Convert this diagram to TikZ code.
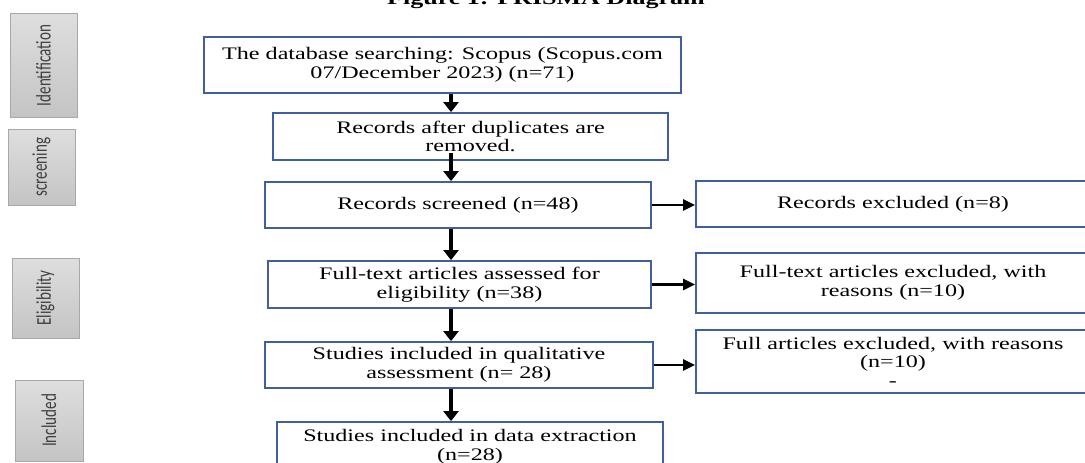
\documentclass[tikz,border=0pt]{standalone}
\usepackage{fontspec}
\setmainfont[FakeStretch=1.37]{Liberation Serif}
\newfontfamily\stagefont[FakeStretch=0.72]{Carlito}
\usetikzlibrary{arrows.meta}
\definecolor{boxblue}{RGB}{62, 96, 160}
\definecolor{stagetop}{RGB}{222, 222, 222}
\definecolor{stagebottom}{RGB}{196, 196, 196}
\definecolor{stageedge}{RGB}{168, 168, 168}

\begin{document}
\begin{tikzpicture}[x=1pt, y=-1pt,
  mainbox/.style={draw=boxblue, line width=1.8pt, align=center, inner sep=0pt, font=\fontsize{17.6}{18.5}\selectfont},
  stagebox/.style={draw=stageedge, line width=1pt, top color=stagetop, bottom color=stagebottom, rotate=90, inner sep=0pt, font=\stagefont\fontsize{21}{21}\selectfont, text=black!75},
  flowarr/.style={-{Triangle[length=10pt, width=15pt]}, line width=3.6pt},
  sidearr/.style={-{Triangle[length=12pt, width=11pt]}, line width=2.8pt}
]
  \useasboundingbox (0,0) rectangle (1085,463);

  % Title (cut at the top edge)
  \node[anchor=base, inner sep=0pt, font=\bfseries\fontsize{19}{19}\selectfont] (title) at (546,5) {Figure 1: PRISMA Diagram};

  % Stage labels
  \node[stagebox, minimum width=104pt, minimum height=67pt] (ident) at (43.5,65.5) {Identification};
  \node[stagebox, minimum width=76pt, minimum height=67pt] (screen) at (41.5,167) {screening};
  \node[stagebox, minimum width=80pt, minimum height=67pt] (elig) at (45.5,298) {Eligibility};
  \node[stagebox, minimum width=81pt, minimum height=68pt] (incl) at (49,420.5) {Included};

  % Main flow
  \node[mainbox, minimum width=477pt, minimum height=56pt] (search) at (442.5,65) {The database searching: Scopus (Scopus.com\\07/December 2023) (n=71)};
  \node[mainbox, minimum width=395pt, minimum height=47pt] (dupl) at (470.5,136.5) {Records after duplicates are\\removed.};
  \node[mainbox, minimum width=386pt, minimum height=46pt] (screened) at (458,205) {Records screened (n=48)};
  \node[mainbox, minimum width=383pt, minimum height=47pt] (fulltext) at (459.5,284.5) {Full-text articles assessed for\\eligibility (n=38)};
  \node[mainbox, minimum width=388pt, minimum height=46pt] (qual) at (459,365) {Studies included in qualitative\\assessment (n= 28)};
  \node[mainbox, minimum width=386pt, minimum height=50pt] (extract) at (470,447) {Studies included in data extraction\\(n=28)};

  % Exclusions
  \node[mainbox, minimum width=394pt, minimum height=46pt] (excl1) at (893,204) {Records excluded (n=8)};
  \node[mainbox, minimum width=394pt, minimum height=60pt] (excl2) at (893,283) {Full-text articles excluded, with\\reasons (n=10)};
  \node[mainbox, minimum width=394pt, minimum height=63pt] (excl3) at (893,361.5) {Full articles excluded, with reasons\\(n=10)\\-};

  % Arrows
  \coordinate (spine) at (451,0);
  \draw[flowarr] (spine |- search.south) -- (spine |- dupl.north);
  \draw[flowarr] ([yshift=8pt]spine |- dupl.south) -- (spine |- screened.north);
  \draw[flowarr] (spine |- screened.south) -- (spine |- fulltext.north);
  \draw[flowarr] (spine |- fulltext.south) -- (spine |- qual.north);
  \draw[flowarr] (spine |- qual.south) -- (spine |- extract.north);
  \draw[sidearr] (screened.east) -- (screened.east -| excl1.west);
  \draw[sidearr] (fulltext.east) -- (fulltext.east -| excl2.west);
  \draw[sidearr] (qual.east) -- (qual.east -| excl3.west);
\end{tikzpicture}
\end{document}
